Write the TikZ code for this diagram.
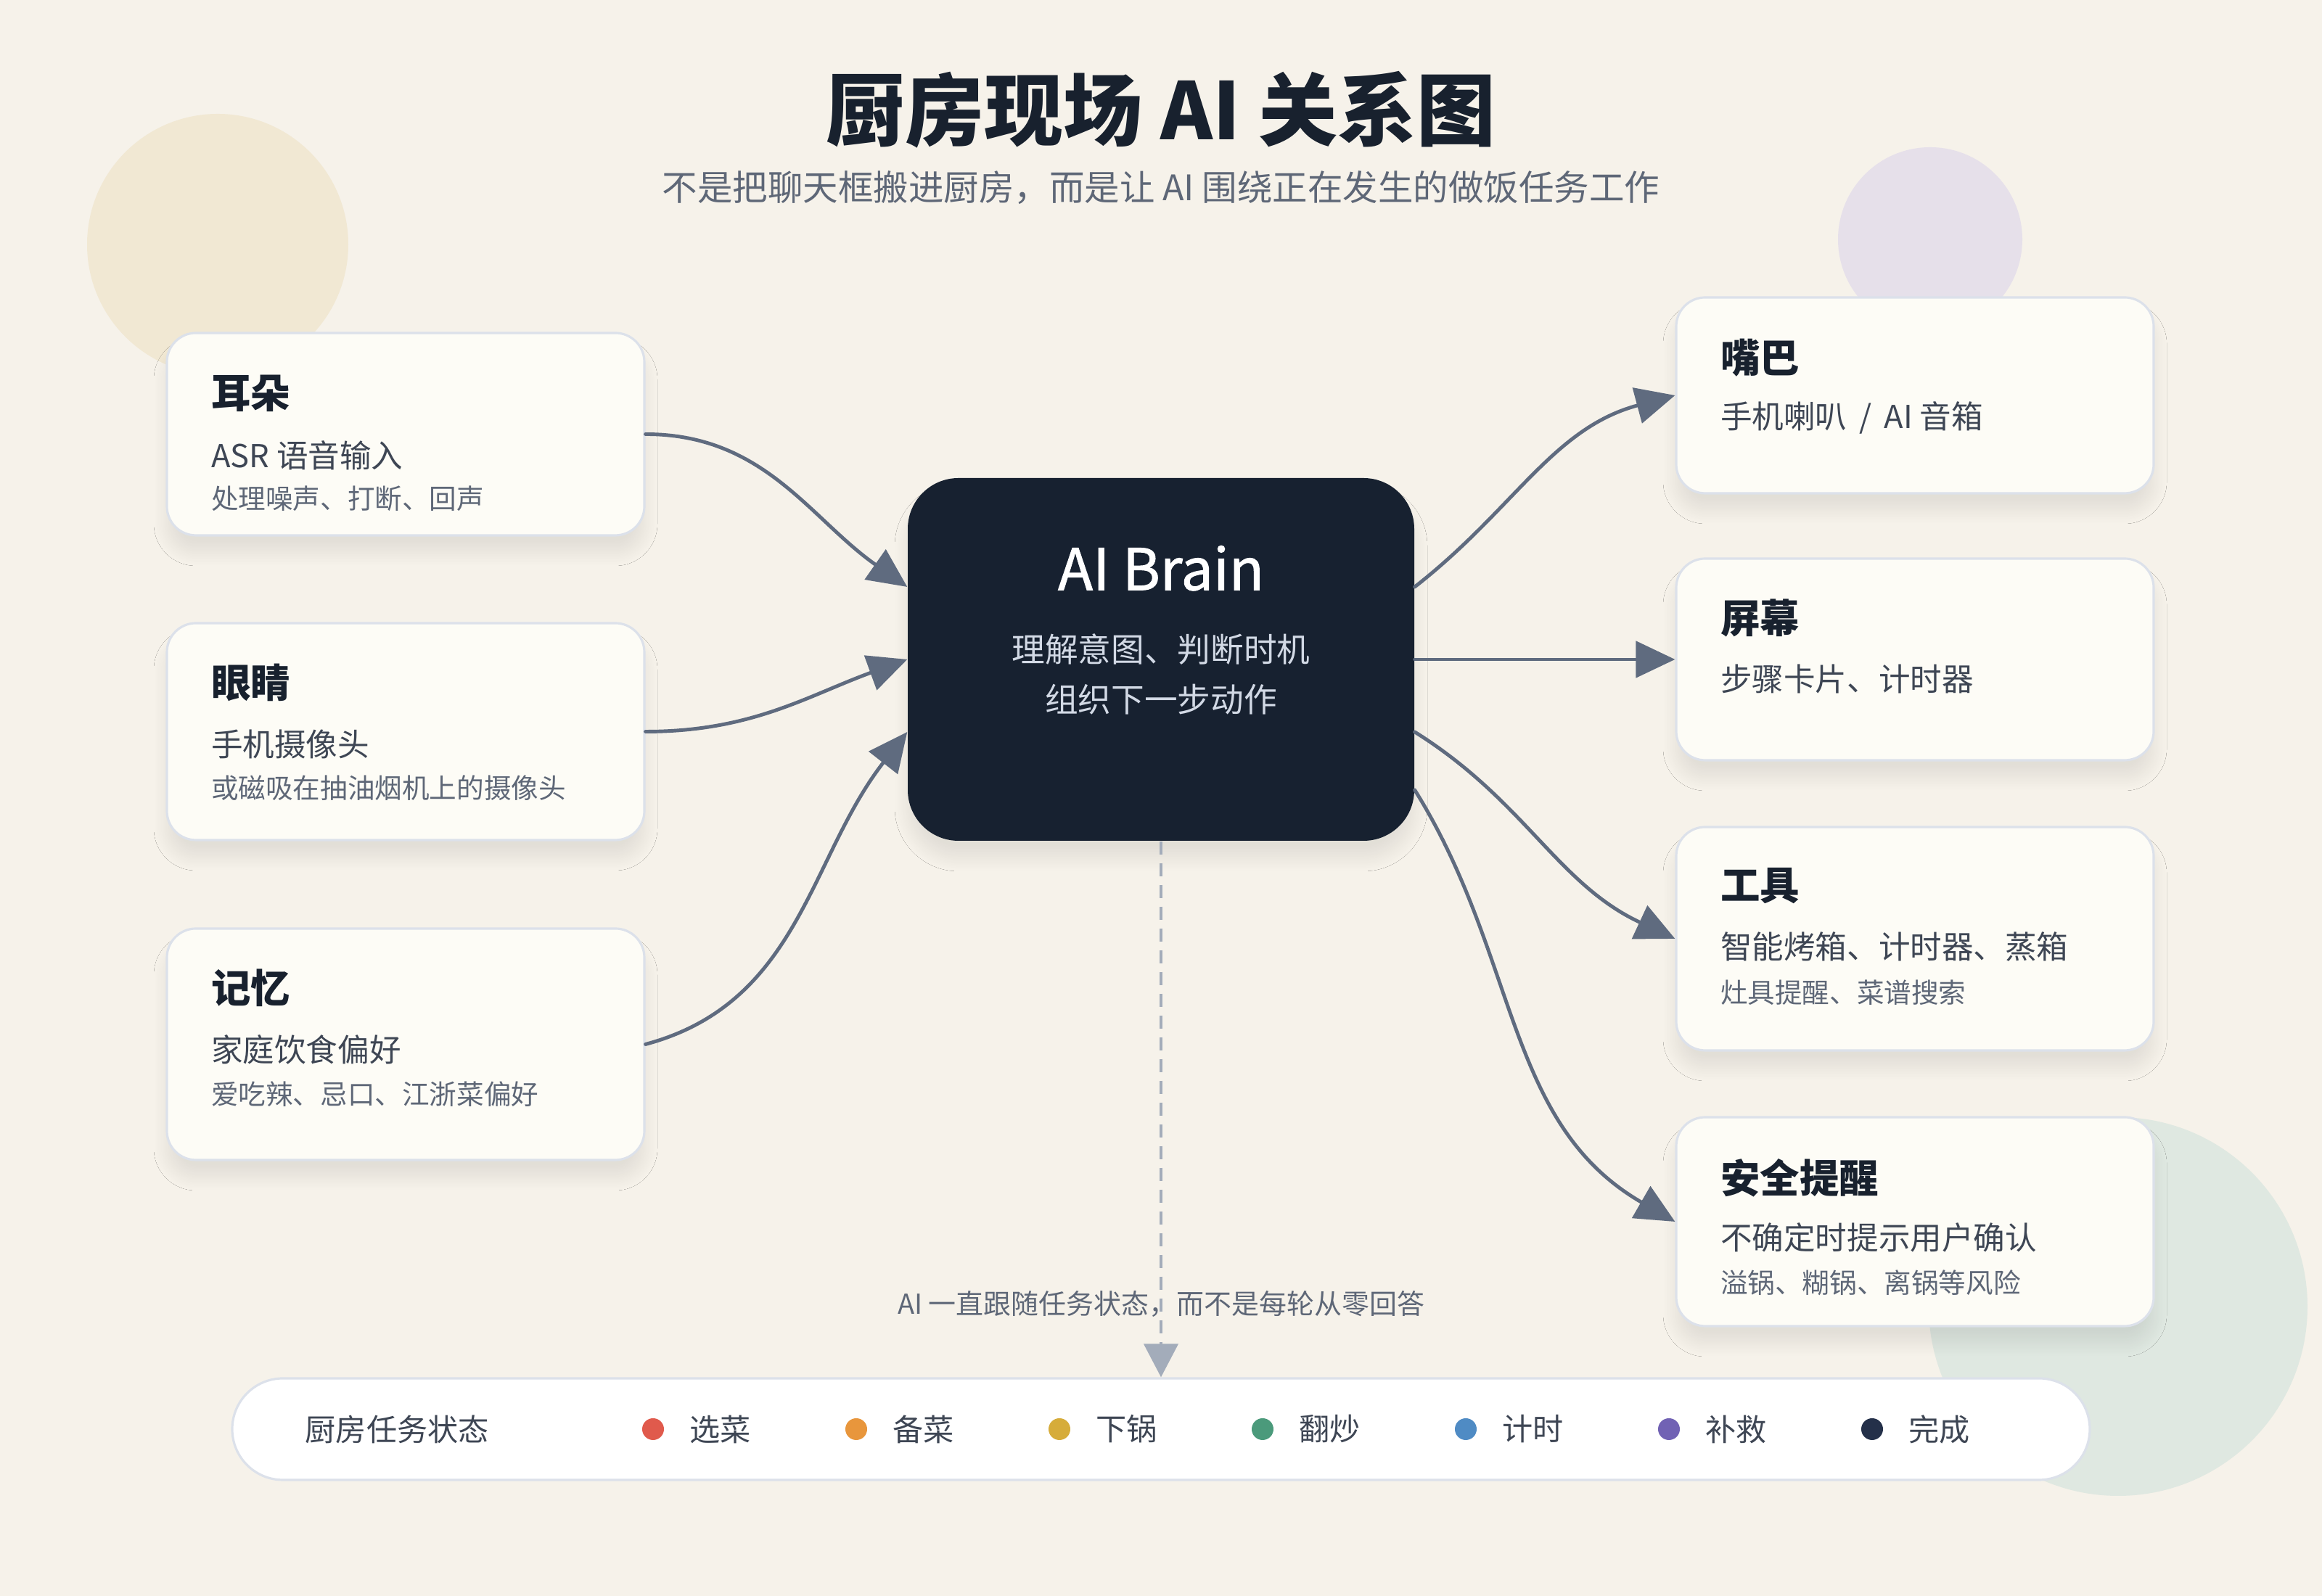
\documentclass[tikz,border=0pt]{standalone}
\usepackage{fontspec}
\setmainfont{Noto Sans CJK SC}
\newfontfamily\brainfont{Noto Sans CJK SC}[FakeBold=1.2]
\usetikzlibrary{arrows.meta}
\usetikzlibrary{positioning}
\usetikzlibrary{shadows.blur}

\definecolor{paper}{HTML}{F6F2EA}
\definecolor{blobsand}{HTML}{F1E8D3}
\definecolor{bloblilac}{HTML}{E6E0EA}
\definecolor{blobsage}{HTML}{DFE8E1}
\definecolor{cardfill}{HTML}{FDFCF6}
\definecolor{cardline}{HTML}{DCE1EA}
\definecolor{ink}{HTML}{18212E}
\definecolor{inksoft}{HTML}{3E4654}
\definecolor{inkmute}{HTML}{5E6777}
\definecolor{linkgray}{HTML}{5F6B7F}
\definecolor{dashgray}{HTML}{A3ACBA}
\definecolor{brainfill}{HTML}{172130}
\definecolor{braintext}{HTML}{D2D9E5}
\definecolor{stpick}{HTML}{E05A4C}
\definecolor{stprep}{HTML}{E8963C}
\definecolor{stpan}{HTML}{D6AC3A}
\definecolor{stfry}{HTML}{4B9A7B}
\definecolor{sttime}{HTML}{4F8BC4}
\definecolor{stfix}{HTML}{7162B4}
\definecolor{stdone}{HTML}{243049}

\tikzset{
  soft shadow/.style = {
    blur shadow={shadow xshift=0cm,shadow yshift=-0.24cm,shadow blur radius=0.18cm,shadow blur steps=24,shadow opacity=8}
  },
  % sensor and output cards
  card/.style = {
    draw = cardline,
    fill = cardfill,
    line width = 0.9pt,
    rounded corners = 0.4cm,
    minimum width = 6.58cm,
    inner sep = 0,
    soft shadow
  },
  cardtitle/.style = {
    anchor = west,
    inner sep = 0,
    text = ink,
    font = \fontsize{15.5}{18}\selectfont\bfseries
  },
  cardmain/.style = {
    anchor = west,
    inner sep = 0,
    text = inksoft,
    font = \fontsize{12.4}{15}\selectfont
  },
  cardnote/.style = {
    anchor = west,
    inner sep = 0,
    text = inkmute,
    font = \fontsize{10.7}{13}\selectfont
  },
  % the dark box in the middle
  brain/.style = {
    fill = brainfill,
    rounded corners = 0.7cm,
    minimum width = 6.98cm,
    minimum height = 5cm,
    inner sep = 0,
    soft shadow
  },
  link/.style = {
    draw = linkgray,
    line width = 1.4pt,
    line cap = round,
    -{Triangle[length = 5.4mm, width = 5mm]}
  },
  statuslink/.style = {
    draw = dashgray,
    line width = 1.2pt,
    dash pattern = on 0.18cm off 0.12cm,
    -{Triangle[length = 4.6mm, width = 4.7mm]}
  },
  legendbar/.style = {
    draw = cardline,
    fill = white,
    line width = 0.9pt,
    rounded corners = 0.7cm,
    minimum width = 25.6cm,
    minimum height = 1.4cm,
    inner sep = 0
  },
  legendtext/.style = {
    inner sep = 0,
    text = inksoft,
    font = \fontsize{12}{14}\selectfont
  },
  dot/.style = {
    circle,
    minimum size = 0.3cm,
    inner sep = 0
  },
  node distance = 0.34cm
}

\begin{document}
\begin{tikzpicture}
  \useasboundingbox (0,0) rectangle (32,22);
  \fill[paper] (0,0) rectangle (32,22);

  % background blobs
  \fill[blobsand] (3.00,18.63) circle (1.80);
  \fill[bloblilac] (26.60,18.70) circle (1.27);
  \fill[blobsage] (29.19,3.99) circle (2.61);

  \node[text = ink, font = \fontsize{31}{36}\selectfont\bfseries] (title)
    at (16,20.49) {厨房现场 AI 关系图};
  \node[text = inkmute, font = \fontsize{13.8}{17}\selectfont] (subtitle)
    at (16,19.41) {不是把聊天框搬进厨房，而是让 AI 围绕正在发生的做饭任务工作};

  % inputs
  \node[card, minimum height = 2.79cm] (ear) at (5.59,16.015) {};
  \node[cardtitle] (ear-title) at ([xshift = 0.62cm, yshift = -0.85cm]ear.north west) {耳朵};
  \node[cardmain] (ear-main) at ([xshift = 0.62cm, yshift = -1.70cm]ear.north west) {ASR 语音输入};
  \node[cardnote] (ear-note) at ([xshift = 0.62cm, yshift = -2.30cm]ear.north west) {处理噪声、打断、回声};

  \node[card, minimum height = 2.99cm] (eye) at (5.59,11.915) {};
  \node[cardtitle] (eye-title) at ([xshift = 0.62cm, yshift = -0.84cm]eye.north west) {眼睛};
  \node[cardmain] (eye-main) at ([xshift = 0.62cm, yshift = -1.69cm]eye.north west) {手机摄像头};
  \node[cardnote] (eye-note) at ([xshift = 0.62cm, yshift = -2.29cm]eye.north west) {或磁吸在抽油烟机上的摄像头};

  \node[card, minimum height = 3.19cm] (memory) at (5.59,7.605) {};
  \node[cardtitle] (memory-title) at ([xshift = 0.62cm, yshift = -0.83cm]memory.north west) {记忆};
  \node[cardmain] (memory-main) at ([xshift = 0.62cm, yshift = -1.68cm]memory.north west) {家庭饮食偏好};
  \node[cardnote] (memory-note) at ([xshift = 0.62cm, yshift = -2.30cm]memory.north west) {爱吃辣、忌口、江浙菜偏好};

  % outputs
  \node[card, minimum height = 2.70cm] (mouth) at (26.39,16.55) {};
  \node[cardtitle] (mouth-title) at ([xshift = 0.62cm, yshift = -0.85cm]mouth.north west) {嘴巴};
  \node[cardmain] (mouth-main) at ([xshift = 0.62cm, yshift = -1.68cm]mouth.north west) {手机喇叭 \,/\, AI 音箱};

  \node[card, minimum height = 2.78cm] (screen) at (26.39,12.91) {};
  \node[cardtitle] (screen-title) at ([xshift = 0.62cm, yshift = -0.84cm]screen.north west) {屏幕};
  \node[cardmain] (screen-main) at ([xshift = 0.62cm, yshift = -1.68cm]screen.north west) {步骤卡片、计时器};

  \node[card, minimum height = 3.08cm] (tools) at (26.39,9.06) {};
  \node[cardtitle] (tools-title) at ([xshift = 0.62cm, yshift = -0.83cm]tools.north west) {工具};
  \node[cardmain] (tools-main) at ([xshift = 0.62cm, yshift = -1.67cm]tools.north west) {智能烤箱、计时器、蒸箱};
  \node[cardnote] (tools-note) at ([xshift = 0.62cm, yshift = -2.30cm]tools.north west) {灶具提醒、菜谱搜索};

  \node[card, minimum height = 2.88cm] (safety) at (26.39,5.16) {};
  \node[cardtitle] (safety-title) at ([xshift = 0.62cm, yshift = -0.85cm]safety.north west) {安全提醒};
  \node[cardmain] (safety-main) at ([xshift = 0.62cm, yshift = -1.68cm]safety.north west) {不确定时提示用户确认};
  \node[cardnote] (safety-note) at ([xshift = 0.62cm, yshift = -2.30cm]safety.north west) {溢锅、糊锅、离锅等风险};

  % center
  \node[brain] (brain) at (16,12.91) {};
  \node[text = white, font = \fontsize{22.5}{26}\brainfont] (brain-title)
    at ([yshift = -1.25cm]brain.north) {AI Brain};
  \node[text = braintext, font = \fontsize{13}{15}\selectfont] (brain-line1)
    at ([yshift = -2.37cm]brain.north) {理解意图、判断时机};
  \node[text = braintext, font = \fontsize{13}{15}\selectfont] (brain-line2)
    at ([yshift = -3.06cm]brain.north) {组织下一步动作};

  \draw[link] (ear.east) to[out = 0, in = 145] ([yshift = 1cm]brain.west);
  \draw[link] (eye.east) to[out = 0, in = 200] (brain.west);
  \draw[link] (memory.east) to[out = 15, in = 232] ([yshift = -1cm]brain.west);

  \draw[link] ([yshift = 1cm]brain.east) to[out = 38, in = 195] (mouth.west);
  \draw[link] (brain.east) -- (screen.west);
  \draw[link] ([yshift = -1cm]brain.east) to[out = -32, in = 155] (tools.west);
  \draw[link] ([yshift = -1.8cm]brain.east) to[out = -58, in = 150] (safety.west);

  % task state legend
  \node[legendbar] (legend) at (16,2.30) {};
  \node[legendtext, anchor = west] (legend-title) at (4.20,2.30) {厨房任务状态};

  \node[dot, fill = stpick] (dot-pick) at (9.00,2.30) {};
  \node[legendtext, right = of dot-pick] (pick) {选菜};
  \node[dot, fill = stprep] (dot-prep) at (11.80,2.30) {};
  \node[legendtext, right = of dot-prep] (prep) {备菜};
  \node[dot, fill = stpan] (dot-pan) at (14.60,2.30) {};
  \node[legendtext, right = of dot-pan] (pan) {下锅};
  \node[dot, fill = stfry] (dot-fry) at (17.40,2.30) {};
  \node[legendtext, right = of dot-fry] (fry) {翻炒};
  \node[dot, fill = sttime] (dot-time) at (20.20,2.30) {};
  \node[legendtext, right = of dot-time] (time) {计时};
  \node[dot, fill = stfix] (dot-fix) at (23.00,2.30) {};
  \node[legendtext, right = of dot-fix] (fix) {补救};
  \node[dot, fill = stdone] (dot-done) at (25.80,2.30) {};
  \node[legendtext, right = of dot-done] (done) {完成};

  \draw[statuslink] (brain.south) -- (legend.north);
  \node[text = inkmute, font = \fontsize{10.8}{13}\selectfont] (hint)
    at (16,4.03) {AI 一直跟随任务状态，而不是每轮从零回答};
\end{tikzpicture}
\end{document}
